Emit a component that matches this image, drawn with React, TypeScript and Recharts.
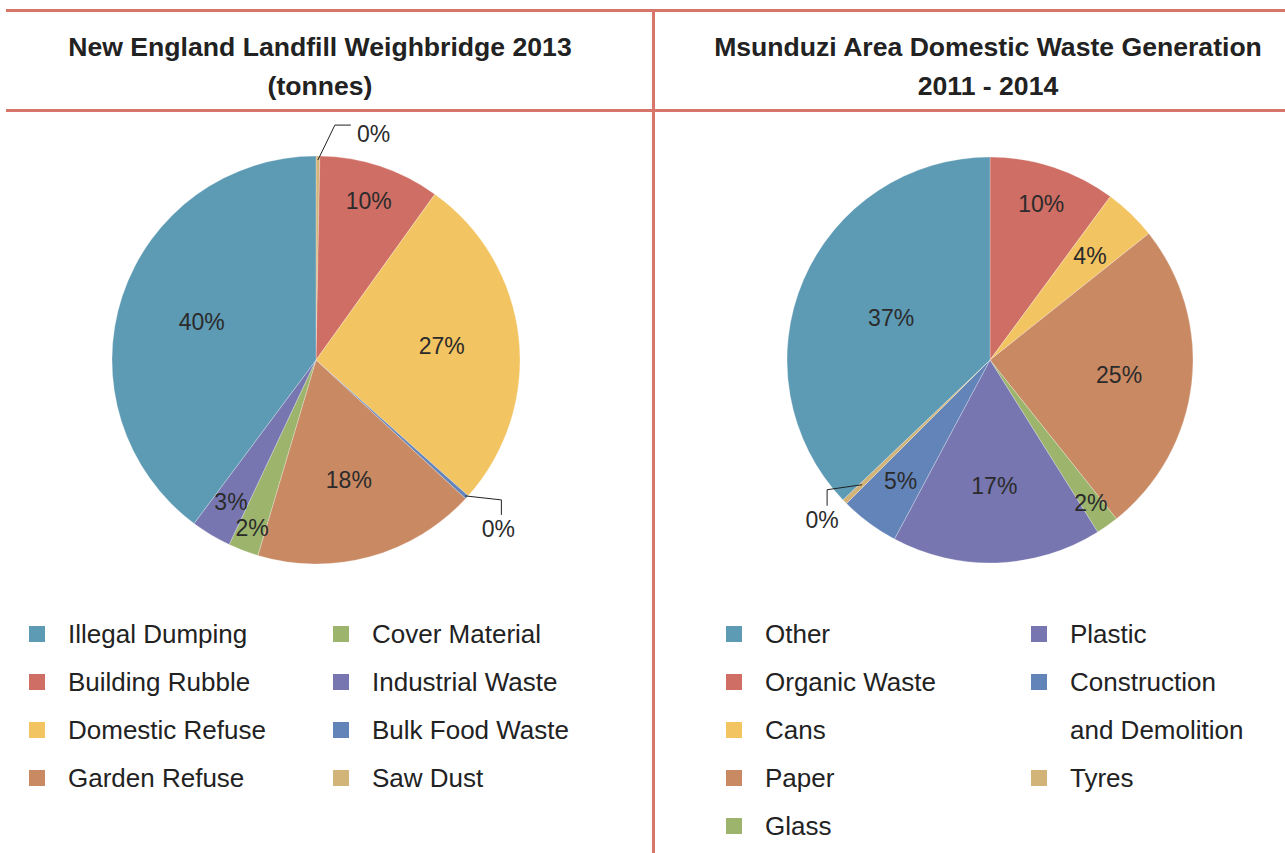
import React from 'react';
import { PieChart, Pie, Cell } from 'recharts';

// slices listed clockwise from 12 o'clock, values in percent of total
const LEFT_NAMES = ['Saw Dust', 'Building Rubble', 'Domestic Refuse', 'Bulk Food Waste', 'Garden Refuse', 'Cover Material', 'Industrial Waste', 'Illegal Dumping'];
const LEFT_VALUES = [0.3, 9.6, 26.7, 0.3, 17.7, 2.4, 3.2, 39.8];

const RIGHT_NAMES = ['Organic Waste', 'Cans', 'Paper', 'Glass', 'Plastic', 'Construction and Demolition', 'Tyres', 'Other'];
const RIGHT_VALUES = [10.1, 4.2, 25.0, 1.8, 16.7, 4.7, 0.4, 37.1];

const LEFT_LEGEND_A = ['Illegal Dumping', 'Building Rubble', 'Domestic Refuse', 'Garden Refuse'];
const LEFT_LEGEND_B = ['Cover Material', 'Industrial Waste', 'Bulk Food Waste', 'Saw Dust'];
const RIGHT_LEGEND_A = ['Other', 'Organic Waste', 'Cans', 'Paper', 'Glass'];
const RIGHT_LEGEND_B = ['Plastic', 'Construction and Demolition', 'Tyres'];

const LEFT_TITLE = ['New England Landfill Weighbridge 2013', '(tonnes)'];
const RIGHT_TITLE = ['Msunduzi Area Domestic Waste Generation', '2011 - 2014'];

const COLORS: Record<string, string> = {
  'Illegal Dumping': '#5d9ab4',
  'Other': '#5d9ab4',
  'Building Rubble': '#cf6e64',
  'Organic Waste': '#cf6e64',
  'Domestic Refuse': '#f3c462',
  'Cans': '#f3c462',
  'Garden Refuse': '#c98963',
  'Paper': '#c98963',
  'Cover Material': '#9cb46b',
  'Glass': '#9cb46b',
  'Industrial Waste': '#7776b0',
  'Plastic': '#7776b0',
  'Bulk Food Waste': '#6384b9',
  'Construction and Demolition': '#6384b9',
  'Saw Dust': '#d2b478',
  'Tyres': '#d2b478',
};

// how far out (fraction of radius) each inside label sits
const LABEL_R: Record<string, number> = {
  'Illegal Dumping': 0.59,
  'Building Rubble': 0.82,
  'Domestic Refuse': 0.62,
  'Garden Refuse': 0.61,
  'Cover Material': 0.88,
  'Industrial Waste': 0.81,
  'Other': 0.53,
  'Organic Waste': 0.81,
  'Cans': 0.71,
  'Paper': 0.64,
  'Glass': 0.86,
  'Plastic': 0.62,
  'Construction and Demolition': 0.74,
};

// leader lines for the near-zero slices: start radius, elbow, end, text offset
const LEADERS: Record<string, { r: number; elbow: [number, number]; end: [number, number]; text: [number, number]; anchor: 'start' | 'middle' }> = {
  'Saw Dust': { r: 0.98, elbow: [17, -35], end: [16, 0], text: [6, 9], anchor: 'start' },
  'Bulk Food Waste': { r: 0.99, elbow: [36, 4], end: [0, 15], text: [-3, 14], anchor: 'middle' },
  'Tyres': { r: 0.88, elbow: [-35, 5], end: [0, 16], text: [-5, 14], anchor: 'middle' },
};

const LINE = '#d8756b';
const FONT = '"Liberation Sans", Arial, Helvetica, sans-serif';
const RAD = Math.PI / 180;

const toData = (names: string[], values: number[]) => names.map((name, i) => ({ name, value: values[i] }));

const renderLabel = (props: any) => {
  const { cx, cy, midAngle, outerRadius, percent, name } = props;
  const txt = `${Math.round(percent * 100)}%`;
  const lead = LEADERS[name];
  if (lead) {
    const r = outerRadius * lead.r;
    const x0 = cx + r * Math.cos(-midAngle * RAD);
    const y0 = cy + r * Math.sin(-midAngle * RAD);
    const x1 = x0 + lead.elbow[0];
    const y1 = y0 + lead.elbow[1];
    const x2 = x1 + lead.end[0];
    const y2 = y1 + lead.end[1];
    return (
      <g>
        <polyline points={`${x0},${y0} ${x1},${y1} ${x2},${y2}`} fill="none" stroke="#222" strokeWidth={1} />
        <text x={x2 + lead.text[0]} y={y2 + lead.text[1]} textAnchor={lead.anchor} dominantBaseline="central" fill="#2b2b2b" fontSize={23} fontFamily={FONT}>
          {txt}
        </text>
      </g>
    );
  }
  const r = outerRadius * (LABEL_R[name] ?? 0.65);
  const x = cx + r * Math.cos(-midAngle * RAD);
  const y = cy + r * Math.sin(-midAngle * RAD);
  return (
    <text x={x} y={y} textAnchor="middle" dominantBaseline="central" fill="#2b2b2b" fontSize={23} fontFamily={FONT}>
      {txt}
    </text>
  );
};

const PiePanel = ({ names, values, left, width, cx, radius }: { names: string[]; values: number[]; left: number; width: number; cx: number; radius: number }) => (
  <div style={{ position: 'absolute', left, top: 112, width, height: 480 }}>
    <PieChart width={width} height={480} margin={{ top: 0, right: 0, bottom: 0, left: 0 }}>
      <Pie
        data={toData(names, values)}
        dataKey="value"
        nameKey="name"
        cx={cx}
        cy={248}
        outerRadius={radius}
        startAngle={90}
        endAngle={-270}
        stroke="rgba(255,255,255,0.45)"
        strokeWidth={0.6}
        label={renderLabel}
        labelLine={false}
        isAnimationActive={false}
      >
        {names.map((n) => (
          <Cell key={n} fill={COLORS[n]} />
        ))}
      </Pie>
    </PieChart>
  </div>
);

const LegendColumn = ({ items, x, split }: { items: string[]; x: number; split?: boolean }) => {
  let row = 0;
  const out: React.ReactNode[] = [];
  items.forEach((item) => {
    const lines = split && item === 'Construction and Demolition' ? ['Construction', 'and Demolition'] : [item];
    const y = 634 + row * 48;
    out.push(
      <div key={item}>
        <div style={{ position: 'absolute', left: x, top: y - 8, width: 16, height: 16, background: COLORS[item] }} />
        {lines.map((ln, j) => (
          <div
            key={ln}
            style={{ position: 'absolute', left: x + 39, top: y + j * 48 - 16, height: 32, lineHeight: '32px', fontSize: 26, fontFamily: FONT, color: '#222', whiteSpace: 'nowrap' }}
          >
            {ln}
          </div>
        ))}
      </div>
    );
    row += lines.length;
  });
  return <>{out}</>;
};

const Title = ({ lines, center }: { lines: string[]; center: number }) => (
  <>
    {lines.map((ln, i) => (
      <div
        key={ln}
        style={{ position: 'absolute', left: center - 320, width: 640, top: 47 + i * 39 - 18, height: 36, lineHeight: '36px', textAlign: 'center', fontSize: 26.6, fontWeight: 'bold', fontFamily: FONT, color: '#222' }}
      >
        {ln}
      </div>
    ))}
  </>
);

export default function App() {
  return (
    <div style={{ position: 'absolute', left: 0, top: 0, width: 1285, height: 853, background: '#fff', overflow: 'hidden' }}>
      <div style={{ position: 'absolute', left: 6, top: 9, width: 1279, height: 3, background: LINE }} />
      <div style={{ position: 'absolute', left: 6, top: 109, width: 1279, height: 3, background: LINE }} />
      <div style={{ position: 'absolute', left: 652, top: 9, width: 3, height: 844, background: LINE }} />

      <Title lines={LEFT_TITLE} center={320} />
      <Title lines={RIGHT_TITLE} center={988} />

      <PiePanel names={LEFT_NAMES} values={LEFT_VALUES} left={0} width={652} cx={316} radius={204} />
      <PiePanel names={RIGHT_NAMES} values={RIGHT_VALUES} left={655} width={630} cx={335} radius={203} />

      <LegendColumn items={LEFT_LEGEND_A} x={29} />
      <LegendColumn items={LEFT_LEGEND_B} x={333} />
      <LegendColumn items={RIGHT_LEGEND_A} x={726} />
      <LegendColumn items={RIGHT_LEGEND_B} x={1031} split />
    </div>
  );
}
